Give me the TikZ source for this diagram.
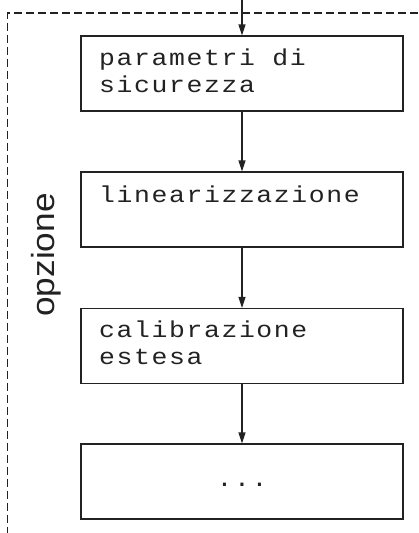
\documentclass[tikz,border=0pt]{standalone}
\usepackage{fontspec}
\usetikzlibrary{arrows.meta}
\newfontfamily\lcdfont[FakeStretch=1.15,LetterSpace=7]{Liberation Mono}
\newfontfamily\sidefont[FakeStretch=1.1]{Liberation Sans}
\definecolor{ink}{HTML}{222222}
\tikzset{
  stepbox/.style={draw=ink, line width=1.1pt, minimum width=322pt, minimum height=75pt, inner sep=0pt},
  lcd/.style={anchor=base west, align=left, inner sep=0pt, text=ink, font=\lcdfont\fontsize{23}{27}\selectfont},
  flow/.style={draw=ink, line width=1.1pt, -{Triangle[length=11pt,width=7pt]}},
  optframe/.style={draw=ink, line width=1.1pt, dash pattern=on 8pt off 4pt}
}
\begin{document}
\begin{tikzpicture}[x=1pt,y=1pt]
  \useasboundingbox (0,0) rectangle (418,-533);
  % optional section frame
  \draw[optframe] (418,-13) -- (7.5,-13) -- (7.5,-533);
  \node[rotate=90, text=ink, font=\sidefont\fontsize{32}{32}\selectfont] (opt) at (46,-255) {opzione};
  % step boxes
  \node[stepbox] (b1) at (242,-73.5) {};
  \node[stepbox] (b2) at (242,-209.5) {};
  \node[stepbox] (b3) at (242,-346) {};
  \node[stepbox] (b4) at (242,-481.5) {};
  % box texts (base anchor sits on the last line)
  \node[lcd] (t1) at (99,-92) {parametri di\\sicurezza};
  \node[lcd] (t2) at (99,-202) {linearizzazione};
  \node[lcd] (t3) at (99,-364) {calibrazione\\estesa};
  \node[lcd, anchor=base] (t4) at (242,-486) {...};
  % connectors
  \coordinate (in) at (242,0);
  \draw[flow] (in) -- (b1.north);
  \draw[flow] (b1.south) -- (b2.north);
  \draw[flow] (b2.south) -- (b3.north);
  \draw[flow] (b3.south) -- (b4.north);
\end{tikzpicture}
\end{document}
